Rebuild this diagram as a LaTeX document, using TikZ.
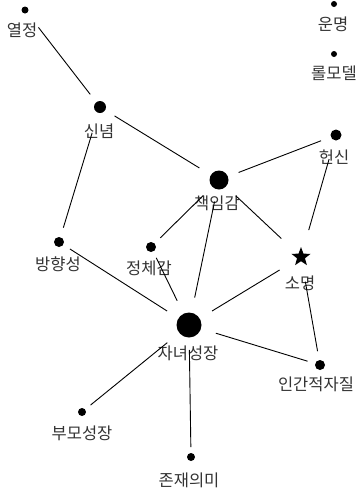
\documentclass[tikz,border=0pt]{standalone}
\usepackage{fontspec}
\setmainfont{Noto Sans CJK KR}
\usetikzlibrary{shapes.geometric}
\tikzset{
  dot/.style={circle,fill=black,inner sep=0pt,minimum size=#1},
  starnode/.style={star,star points=5,star point ratio=2.4,fill=black,inner sep=0pt,minimum size=20pt},
  lbl/.style={inner sep=0pt,font=\fontsize{16.5}{17}\selectfont,text=black!80},
  link/.style={draw=black,line width=0.9pt},
}
\newcommand{\lk}[4]{\draw[link,shorten <=#3pt,shorten >=#4pt] (#1.center) -- (#2.center);}
\begin{document}
\begin{tikzpicture}[x=1pt,y=-1pt]
\useasboundingbox (0,0) rectangle (361,493);
% dots
\node[dot=7pt]  (yeol) at (25,10) {};
\node[dot=6pt]  (unm)  at (334,4) {};
\node[dot=6pt]  (rol)  at (334,54) {};
\node[dot=12pt] (sin)  at (100,107) {};
\node[dot=11pt] (hon)  at (336,135) {};
\node[dot=19pt] (chk)  at (219,180) {};
\node[dot=10pt] (jeo)  at (151,247) {};
\node[dot=10pt] (bang) at (59,242) {};
\node[starnode] (som)  at (301,257) {};
\node[dot=25pt] (ja)   at (189,325) {};
\node[dot=10pt] (in)   at (320,365) {};
\node[dot=8pt]  (bu)   at (82,412) {};
\node[dot=8pt]  (jon)  at (191,457) {};
% labels
\node[lbl] (Lyeol) at (22,30)  {열정};
\node[lbl] (Lunm)  at (333,24) {운명};
\node[lbl] (Lrol)  at (334,73) {롤모델};
\node[lbl] (Lsin)  at (99,131) {신념};
\node[lbl] (Lhon)  at (334,157) {헌신};
\node[lbl] (Lchk)  at (217,203) {책임감};
\node[lbl] (Ljeo)  at (149,268) {정체감};
\node[lbl] (Lbang) at (58,264) {방향성};
\node[lbl] (Lsom)  at (300,283) {소명};
\node[lbl] (Lja)   at (188,353) {자녀성장};
\node[lbl] (Lin)   at (316,384) {인간적자질};
\node[lbl] (Lbu)   at (82,433) {부모성장};
\node[lbl] (Ljon)  at (189,480) {존재의미};
% links
\lk{yeol}{sin}{22}{16}
\lk{sin}{chk}{17}{23}
\lk{sin}{bang}{27}{15}
\lk{chk}{hon}{21}{16}
\lk{chk}{jeo}{22}{13}
\lk{chk}{ja}{22}{28}
\lk{chk}{som}{23}{27}
\lk{hon}{som}{25}{28}
\lk{jeo}{ja}{12}{27}
\lk{bang}{ja}{13}{26}
\lk{som}{ja}{25}{27}
\lk{som}{in}{25}{14}
\lk{ja}{in}{28}{13}
\lk{ja}{bu}{28}{11}
\lk{ja}{jon}{25}{10}
\end{tikzpicture}
\end{document}
